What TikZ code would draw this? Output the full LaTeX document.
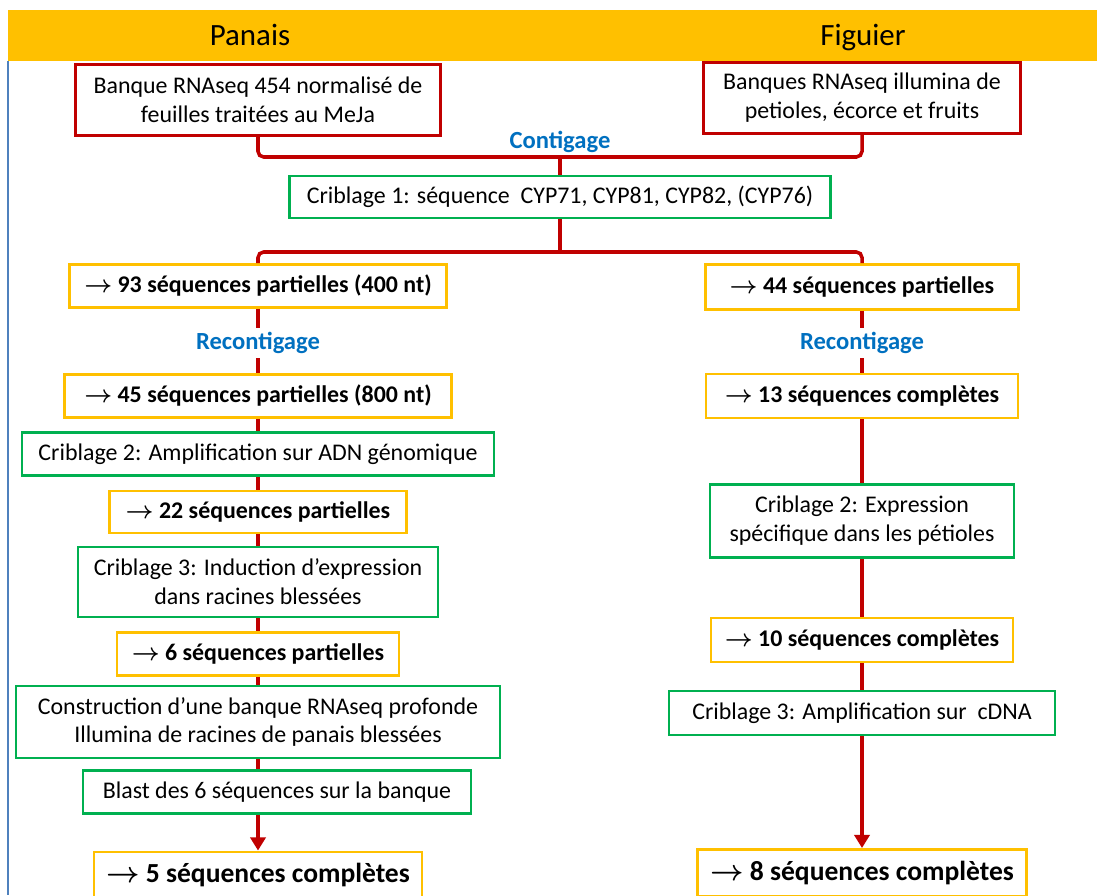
\documentclass[tikz,border=0pt]{standalone}
\usepackage{fontspec}
\setmainfont{Carlito}
\usepackage{amsmath}
\usetikzlibrary{arrows.meta}
\usepackage{xcolor}

\definecolor{sheetred}{RGB}{192,0,0}
\definecolor{sheetgreen}{RGB}{0,176,80}
\definecolor{sheetgold}{RGB}{255,192,0}
\definecolor{sheetblue}{RGB}{0,112,192}
\definecolor{ruleblue}{RGB}{79,129,189}

\newcommand{\fleche}{$\boldsymbol{\rightarrow}$}

\tikzset{dims/.style 2 args={minimum width=#1*0.025cm, minimum height=#2*0.025cm},
        srcbox/.style={
          draw=sheetred, line width=2.1pt, fill=white, inner sep=0pt, align=center,
          font=\fontsize{17}{20.6}\selectfont
          },
        screenbox/.style={srcbox, draw=sheetgreen},
        resultbox/.style={srcbox, draw=sheetgold, font=\fontsize{17}{20}\selectfont\bfseries},
        finalbox/.style={resultbox, font=\fontsize{19.6}{22}\selectfont\bfseries},
        steplabel/.style={text=sheetblue, fill=white, inner sep=3pt, font=\fontsize{17.5}{20}\selectfont\bfseries},
        species/.style={anchor=base, font=\fontsize{22}{26}\selectfont},
        link/.style={draw=sheetred, line width=2.5pt},
        linkend/.style={link, -{Triangle[width=0.38cm,length=0.33cm]}},
}

\begin{document}
\begin{tikzpicture}[x=0.025cm, y=-0.025cm]
      \useasboundingbox (0,0) rectangle (1097,895);
      % HEADER
      \fill[sheetgold] (8,10) rectangle (1097,61);
      \draw[ruleblue, line width=1pt] (8,61) -- (8,895);
      \node[species] (panais) at (250,45) {Panais};
      \node[species] (figuier) at (863,45) {Figuier};

      % SOURCE LIBRARIES
      \node[srcbox, dims={365}{71}] (srcP) at (258,100) {Banque RNAseq 454 normalisé de\\feuilles traitées au MeJa};
      \node[srcbox, dims={317}{71}] (srcF) at (862,98) {Banques RNAseq illumina de\\petioles, écorce et fruits};
      \coordinate (join) at (560,157);
      \node[steplabel, fill=none] (contig) at (560,142) {Contigage};
      \node[screenbox, dims={541}{42}] (crib1) at (560,197) {Criblage 1: séquence~ CYP71, CYP81, CYP82, (CYP76)};
      \coordinate (split) at (560,252);

      % PANAIS column
      \node[resultbox, dims={377}{43}] (y93) at (258,286) {\fleche{} 93 séquences partielles (400 nt)};
      \node[steplabel] (recP) at (258,343) {Recontigage};
      \node[resultbox, dims={387}{43}] (y45) at (258,396) {\fleche{} 45 séquences partielles (800 nt)};
      \node[screenbox, dims={472}{43}] (crib2P) at (258,454) {Criblage 2: Amplification sur ADN génomique};
      \node[resultbox, dims={297}{42}] (y22) at (258,512) {\fleche{} 22 séquences partielles};
      \node[screenbox, dims={360}{70}] (crib3P) at (258,582) {Criblage 3: Induction d’expression\\dans racines blessées};
      \node[resultbox, dims={282}{43}] (y6) at (258,654) {\fleche{} 6 séquences partielles};
      \node[screenbox, dims={484}{72}] (buildP) at (258,722) {Construction d’une banque RNAseq profonde\\Illumina de racines de panais blessées};
      \node[screenbox, dims={388}{43}] (blastP) at (277,792) {Blast des 6 séquences sur la banque};
      \node[finalbox, dims={328}{46}] (y5) at (258,875) {\fleche{} 5 séquences complètes};

      % FIGUIER column
      \node[resultbox, dims={313}{45}] (y44) at (862,287) {\fleche{} 44 séquences partielles};
      \node[steplabel] (recF) at (862,343) {Recontigage};
      \node[resultbox, dims={312}{44}] (y13) at (862,396) {\fleche{} 13 séquences complètes};
      \node[screenbox, dims={304}{73}] (crib2F) at (862,521) {Criblage 2: Expression\\spécifique dans les pétioles};
      \node[resultbox, dims={302}{44}] (y10) at (862,640) {\fleche{} 10 séquences complètes};
      \node[screenbox, dims={386}{44}] (crib3F) at (862,713) {Criblage 3: Amplification sur~ cDNA};
      \node[finalbox, dims={329}{47}] (y8) at (862,873) {\fleche{} 8 séquences complètes};

      % WIRING
      \draw[link, rounded corners=4] (srcP) |- (join) -| (srcF);
      \draw[link] (join) -- (crib1);
      \draw[link] (crib1) -- (split);
      \draw[link, rounded corners=4] (y93) |- (split) -| (y44);

      \draw[link] (y93) -- (recP) -- (y45) -- (crib2P) -- (y22) -- (crib3P) -- (y6) -- (buildP);
      \draw[link] (buildP.south) -- (buildP.south |- blastP.north);
      \draw[linkend] (blastP.south -| y5) -- (y5);

      \draw[link] (y44) -- (recF) -- (y13) -- (crib2F) -- (y10) -- (crib3F);
      \draw[linkend] (crib3F) -- (y8);
\end{tikzpicture}
\end{document}
